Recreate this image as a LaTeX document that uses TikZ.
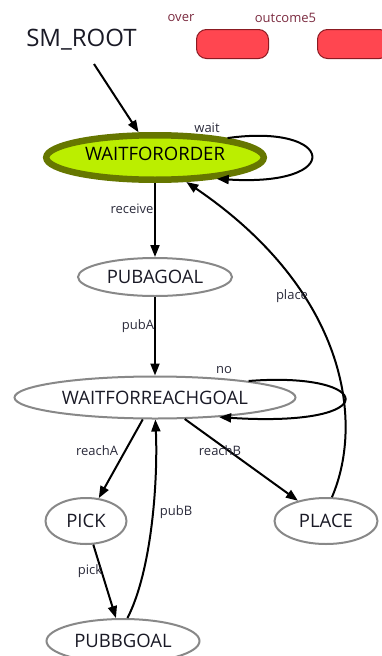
\documentclass[tikz,border=0pt]{standalone}
\usepackage{fontspec}
\setmainfont{Open Sans}
\usetikzlibrary{shapes.geometric,arrows.meta}
\definecolor{limefill}{HTML}{BBEE00}
\definecolor{olivebord}{HTML}{667700}
\definecolor{greybord}{HTML}{888888}
\definecolor{redfill}{HTML}{FF4650}
\definecolor{redbord}{HTML}{8B1A22}
\definecolor{outlbl}{HTML}{7B2B40}
\definecolor{edgelbl}{HTML}{2A2A3A}
\definecolor{nodetxt}{HTML}{1A1A26}
\tikzset{
  statenode/.style={ellipse, draw=greybord, line width=2pt, fill=white, inner sep=0pt,
    text=nodetxt, font=\fontsize{18.5}{21}\selectfont},
  activenode/.style={ellipse, draw=olivebord, line width=6.5pt, fill=limefill, inner sep=0pt,
    text=black, font=\fontsize{18.5}{21}\selectfont, text depth=8pt},
  outbox/.style={rectangle, rounded corners=10pt, draw=redbord, line width=1pt, fill=redfill,
    minimum width=72pt, minimum height=29pt, inner sep=0pt},
  outlabel/.style={text=outlbl, font=\fontsize{13}{15}\selectfont, inner sep=0pt},
  edgelabel/.style={text=edgelbl, font=\fontsize{13}{15}\selectfont, inner sep=0pt},
  conn/.style={black, line width=2pt, -{Triangle[length=12pt,width=9pt]}},
}
\begin{document}
\begin{tikzpicture}[x=1pt,y=-1pt]
\useasboundingbox (0,0) rectangle (382,656);
% top-level label
\node[text=nodetxt, font=\fontsize{24}{28}\selectfont, inner sep=0pt] (root) at (81.5,40) {SM\_ROOT};
\coordinate (rootout) at (94,64);
% outcomes
\node[outbox] (ob1) at (232.5,44) {};
\node[outbox] (ob2) at (353.5,44) {};
\node[outlabel] (lover) at (181,18) {over};
\node[outlabel] (loutcome) at (285.5,18) {outcome5};
% states
\node[activenode, minimum width=217.5pt, minimum height=44.5pt] (w) at (155,157.5) {WAITFORORDER};
\node[statenode, minimum width=154pt, minimum height=38pt] (pa) at (155,277) {PUBAGOAL};
\node[statenode, minimum width=281pt, minimum height=42pt] (wr) at (155,397.5) {WAITFORREACHGOAL};
\node[statenode, minimum width=81pt, minimum height=46pt] (pick) at (86,521) {PICK};
\node[statenode, minimum width=103pt, minimum height=46pt] (place) at (326,521) {PLACE};
\node[statenode, minimum width=153pt, minimum height=44pt] (pb) at (123,641) {PUBBGOAL};
% connectors
\draw[conn] (rootout) -- (w);
\draw[conn] (w.15) .. controls (335,123) and (346,187) .. (w.-19);
\draw[conn] (w) -- (pa);
\draw[conn] (pa) -- (wr);
\draw[conn] (wr.10) .. controls (375,371) and (387,428) .. (wr.-17);
\draw[conn] (wr) -- (pick);
\draw[conn] (wr) -- (place);
\draw[conn] (pick) -- (pb);
\draw[conn] (pb.79) .. controls (152,570) and (158,480) .. (wr.-89);
\draw[conn] (place.76) .. controls (365,420) and (345,290) .. (w.-38);
% edge labels
\node[edgelabel] (lwait) at (207,128) {wait};
\node[edgelabel] (lreceive) at (132,209) {receive};
\node[edgelabel] (lpubA) at (138,326) {pubA};
\node[edgelabel] (lno) at (224,370) {no};
\node[edgelabel] (lreachA) at (97,451) {reachA};
\node[edgelabel] (lreachB) at (220,451) {reachB};
\node[edgelabel] (lpick) at (90,571) {pick};
\node[edgelabel] (lpubB) at (176,512) {pubB};
\node[edgelabel] (lplace) at (292,296) {place};
\end{tikzpicture}
\end{document}
